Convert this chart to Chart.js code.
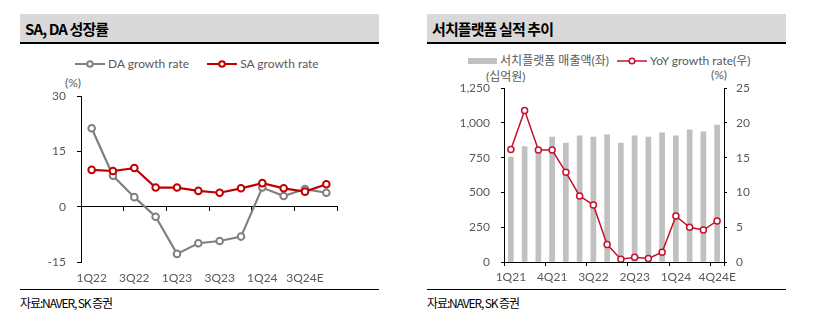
<!DOCTYPE html>
<html>
<head>
<meta charset="utf-8">
<script src="https://cdn.jsdelivr.net/npm/chart.js@4.4.1/dist/chart.umd.min.js"></script>
<style>
  body { margin: 0; width: 815px; height: 329px; background: #fff; position: relative; overflow: hidden;
         font-family: Lato, 'Noto Sans CJK KR', sans-serif; }
  .abs { position: absolute; }
  .titlebar { height: 28px; width: 359px; background: #d9d9d9; border-bottom: 2px solid #000; top: 14px; }
  .title { font-family: 'Noto Sans CJK KR', sans-serif; font-weight: 700; font-size: 15px; letter-spacing: -0.9px;
           color: #000; line-height: 29px; padding-left: 5px; }
  .rule { height: 1px; background: #000; width: 359px; top: 289px; }
  .source { top: 294px; font-family: 'Noto Sans CJK KR', sans-serif; font-size: 12px; letter-spacing: -1.1px; color: #000; }
  .legend { font-size: 12px; color: #595959; white-space: nowrap; line-height: 14px; }
  .legend span, .legend svg { vertical-align: middle; }
  .unit { font-size: 12px; color: #595959; white-space: nowrap; line-height: 14px; }
</style>
</head>
<body>
<div class="abs titlebar" style="left:20px"><div class="title">SA, DA 성장률</div></div>
<div class="abs titlebar" style="left:427px"><div class="title">서치플랫폼 실적 추이</div></div>

<div id="legend1" class="abs legend" style="left:75px; top:56px"></div>
<div id="legend2" class="abs legend" style="left:468px; top:53px"></div>

<div class="abs unit" style="left:65px; top:76px">(%)</div>
<div class="abs unit" style="left:486px; top:70px">(십억원)</div>
<div class="abs unit" style="left:711px; top:68px">(%)</div>

<canvas id="c1" class="abs" style="left:20px; top:78px" width="360" height="210"></canvas>
<canvas id="c2" class="abs" style="left:427px; top:70px" width="359" height="218"></canvas>

<div class="abs rule" style="left:20px"></div>
<div class="abs rule" style="left:427px"></div>
<div class="abs source" style="left:20px">자료:NAVER, SK 증권</div>
<div class="abs source" style="left:427px">자료:NAVER, SK 증권</div>

<script>
// left chart: SA, DA growth
const quarters1 = ['1Q22', '2Q22', '3Q22', '4Q22', '1Q23', '2Q23', '3Q23', '4Q23', '1Q24', '2Q24', '3Q24E', '4Q24E'];
const daGrowth = [21.3, 8.4, 2.6, -2.7, -12.8, -9.9, -9.3, -8.1, 5.2, 2.9, 4.8, 3.8];
const saGrowth = [10.0, 9.7, 10.5, 5.2, 5.2, 4.3, 3.8, 5.0, 6.4, 5.0, 4.1, 6.1];

// right chart: search platform revenue & YoY
const quarters2 = ['1Q21', '2Q21', '3Q21', '4Q21', '1Q22', '2Q22', '3Q22', '4Q22',
                   '1Q23', '2Q23', '3Q23', '4Q23', '1Q24', '2Q24', '3Q24E', '4Q24E'];
const searchRevenue = [754, 830, 805, 898, 855, 907, 898, 914, 855, 907, 898, 929, 907, 951, 936, 984];
const yoyGrowth = [16.2, 21.8, 16.1, 16.1, 12.9, 9.5, 8.2, 2.5, 0.4, 0.7, 0.5, 1.4, 6.6, 5.0, 4.6, 5.9];

const DA_COLOR = '#808080';
const SA_COLOR = '#c00000';
const BAR_COLOR = '#c0c0c0';
const LINE_COLOR = '#c8102e';
const TXT = '#595959';
const FONT = "Lato, 'Noto Sans CJK KR', sans-serif";

function lineMark(color, w) {
    return '<svg width="30" height="10"><line x1="0" y1="5" x2="30" y2="5" stroke="' + color + '" stroke-width="' + w +
        '"/><circle cx="15" cy="5" r="2.8" fill="#fff" stroke="' + color + '" stroke-width="' + w + '"/></svg>';
}

document.getElementById('legend1').innerHTML =
    lineMark(DA_COLOR, 2) + ' <span>DA growth rate</span>' +
    '<span style="display:inline-block;width:18px"></span>' +
    lineMark(SA_COLOR, 2) + ' <span>SA growth rate</span>';

document.getElementById('legend2').innerHTML =
    '<svg width="29" height="10"><rect x="0" y="2" width="29" height="6" fill="' + BAR_COLOR + '"/></svg> <span>서치플랫폼 매출액(좌)</span>' +
    '<span style="display:inline-block;width:8px"></span>' +
    lineMark(LINE_COLOR, 1.5) + ' <span>YoY growth rate(우)</span>';

Chart.defaults.font.family = FONT;
Chart.defaults.font.size = 12;
Chart.defaults.color = TXT;

function everyNth(n) {
    return c => (c.index === undefined || c.index % n === 0) ? '#000' : 'rgba(0,0,0,0)';
}

new Chart(document.getElementById('c1'), {
    type: 'line',
    data: {
        labels: quarters1,
        datasets: [
            {
                label: 'DA growth rate', data: daGrowth, order: 1,
                borderColor: DA_COLOR, borderWidth: 2.2, pointRadius: 3.3, pointBorderWidth: 2,
                pointBackgroundColor: '#fff', pointBorderColor: DA_COLOR, tension: 0
            },
            {
                label: 'SA growth rate', data: saGrowth, order: 0,
                borderColor: SA_COLOR, borderWidth: 2.2, pointRadius: 3.3, pointBorderWidth: 2,
                pointBackgroundColor: '#fff', pointBorderColor: SA_COLOR, tension: 0
            }
        ]
    },
    options: {
        responsive: false,
        animation: false,
        layout: { padding: { top: 0, right: 43, bottom: 0, left: 0 } },
        plugins: { legend: { display: false }, tooltip: { enabled: false } },
        scales: {
            x: {
                offset: true,
                grid: { display: false, drawTicks: false },
                border: { display: false },
                ticks: {
                    autoSkip: false, maxRotation: 0, padding: 9,
                    callback: (v, i) => i % 2 === 0 ? quarters1[i] : ''
                },
                afterFit: s => { s.height = 26; }
            },
            xz: {
                type: 'category',
                position: { y: 0 },
                offset: true,
                grid: { drawOnChartArea: false, offset: true, tickLength: 4, tickColor: everyNth(2), color: '#000' },
                border: { color: '#000', width: 1 },
                ticks: { display: false }
            },
            y: {
                min: -15, max: 30,
                ticks: { stepSize: 15, padding: 11 },
                grid: { drawOnChartArea: false, tickLength: 4, color: '#000' },
                border: { color: '#000', width: 1 },
                afterFit: s => { s.width = 61; }
            }
        }
    }
});

new Chart(document.getElementById('c2'), {
    data: {
        labels: quarters2,
        datasets: [
            {
                type: 'line', label: 'YoY growth rate(우)', data: yoyGrowth, yAxisID: 'y1', order: 0,
                borderColor: LINE_COLOR, borderWidth: 1.5, pointRadius: 3, pointBorderWidth: 1.5,
                pointBackgroundColor: '#fff', pointBorderColor: LINE_COLOR, tension: 0
            },
            {
                type: 'bar', label: '서치플랫폼 매출액(좌)', data: searchRevenue, yAxisID: 'y', order: 1,
                backgroundColor: BAR_COLOR, barThickness: 5
            }
        ]
    },
    options: {
        responsive: false,
        animation: false,
        layout: { padding: { top: 0, right: 0, bottom: 0, left: 0 } },
        plugins: { legend: { display: false }, tooltip: { enabled: false } },
        scales: {
            x: {
                offset: true,
                grid: { drawOnChartArea: false, offset: true, tickLength: 4, tickColor: everyNth(3), color: '#000' },
                border: { color: '#000', width: 1 },
                ticks: {
                    autoSkip: false, maxRotation: 0, padding: 4,
                    callback: (v, i) => i % 3 === 0 ? quarters2[i] : ''
                },
                afterFit: s => { s.height = 26; }
            },
            y: {
                position: 'left',
                min: 0, max: 1250,
                ticks: { stepSize: 250, padding: 11, callback: v => v.toLocaleString('en-US') },
                grid: { drawOnChartArea: false, tickLength: 3, color: '#000' },
                border: { color: '#000', width: 1 },
                afterFit: s => { s.width = 77; }
            },
            y1: {
                position: 'right',
                min: 0, max: 25,
                ticks: { stepSize: 5, padding: 9 },
                grid: { drawOnChartArea: false, tickLength: 3, color: '#000' },
                border: { color: '#000', width: 1 },
                afterFit: s => { s.width = 62; }
            }
        }
    }
});
</script>
</body>
</html>
